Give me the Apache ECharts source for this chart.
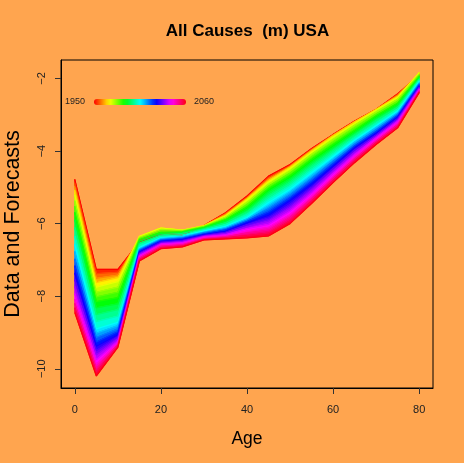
<!DOCTYPE html>
<html>
<head>
<meta charset="utf-8">
<script src="https://cdn.jsdelivr.net/npm/echarts@6/dist/echarts.min.js"></script>
<style>
  html, body { margin: 0; padding: 0; background: #FFA54F; }
  #chart { width: 464px; height: 463px; }
</style>
</head>
<body>
<div id="chart"></div>
<script>
// log death rates by age, one row per year (every 5 years, 1950-2060)
var ages = [0, 5, 10, 15, 20, 25, 30, 35, 40, 45, 50, 55, 60, 65, 70, 75, 80];
var years = [1950, 1955, 1960, 1965, 1970, 1975, 1980, 1985, 1990, 1995, 2000, 2005,
             2010, 2015, 2020, 2025, 2030, 2035, 2040, 2045, 2050, 2055, 2060];

var y1950 = [-4.78, -7.26, -7.26, -6.50, -6.30, -6.32, -6.05, -5.70, -5.24, -4.69, -4.37, -3.93, -3.54, -3.17, -2.85, -2.42, -1.90];
var y1955 = [-4.88, -7.38, -7.34, -6.46, -6.25, -6.28, -6.05, -5.72, -5.27, -4.73, -4.40, -3.95, -3.55, -3.18, -2.85, -2.44, -1.88];
var y1960 = [-4.98, -7.51, -7.42, -6.41, -6.19, -6.24, -6.05, -5.74, -5.29, -4.77, -4.42, -3.97, -3.56, -3.19, -2.85, -2.46, -1.86];
var y1965 = [-5.08, -7.63, -7.49, -6.37, -6.14, -6.20, -6.05, -5.77, -5.31, -4.81, -4.44, -3.99, -3.57, -3.19, -2.85, -2.49, -1.84];
var y1970 = [-5.20, -7.75, -7.60, -6.35, -6.12, -6.18, -6.06, -5.79, -5.35, -4.85, -4.48, -4.03, -3.61, -3.23, -2.87, -2.52, -1.84];
var y1975 = [-5.37, -7.89, -7.75, -6.38, -6.16, -6.19, -6.07, -5.82, -5.42, -4.92, -4.55, -4.09, -3.68, -3.29, -2.92, -2.57, -1.87];
var y1980 = [-5.52, -8.02, -7.89, -6.41, -6.20, -6.21, -6.08, -5.86, -5.48, -4.97, -4.61, -4.16, -3.75, -3.36, -2.98, -2.63, -1.91];
var y1985 = [-5.69, -8.15, -8.04, -6.44, -6.24, -6.22, -6.10, -5.89, -5.54, -5.04, -4.68, -4.23, -3.82, -3.43, -3.03, -2.68, -1.94];
var y1990 = [-5.89, -8.32, -8.21, -6.49, -6.27, -6.24, -6.12, -5.93, -5.61, -5.12, -4.76, -4.31, -3.90, -3.49, -3.09, -2.73, -1.97];
var y1995 = [-6.11, -8.51, -8.37, -6.54, -6.31, -6.27, -6.14, -5.98, -5.68, -5.22, -4.85, -4.40, -3.98, -3.56, -3.16, -2.79, -2.01];
var y2000 = [-6.34, -8.70, -8.55, -6.60, -6.35, -6.31, -6.17, -6.03, -5.75, -5.32, -4.95, -4.50, -4.07, -3.63, -3.23, -2.84, -2.04];
var y2005 = [-6.57, -8.90, -8.72, -6.66, -6.39, -6.34, -6.20, -6.08, -5.83, -5.42, -5.05, -4.60, -4.15, -3.70, -3.30, -2.90, -2.08];
var y2010 = [-6.77, -9.02, -8.81, -6.69, -6.41, -6.36, -6.23, -6.11, -5.87, -5.51, -5.13, -4.68, -4.22, -3.75, -3.35, -2.94, -2.11];
var y2015 = [-6.97, -9.14, -8.90, -6.72, -6.44, -6.39, -6.25, -6.14, -5.90, -5.59, -5.21, -4.76, -4.28, -3.81, -3.41, -2.98, -2.14];
var y2020 = [-7.16, -9.26, -8.98, -6.75, -6.46, -6.41, -6.28, -6.17, -5.94, -5.68, -5.29, -4.84, -4.35, -3.86, -3.46, -3.02, -2.17];
var y2025 = [-7.36, -9.38, -9.06, -6.78, -6.49, -6.44, -6.30, -6.21, -5.98, -5.77, -5.37, -4.92, -4.42, -3.91, -3.51, -3.06, -2.21];
var y2030 = [-7.54, -9.50, -9.12, -6.81, -6.51, -6.46, -6.32, -6.24, -6.03, -5.85, -5.47, -5.00, -4.48, -3.97, -3.55, -3.10, -2.23];
var y2035 = [-7.73, -9.62, -9.18, -6.84, -6.54, -6.49, -6.34, -6.27, -6.09, -5.93, -5.56, -5.08, -4.55, -4.03, -3.59, -3.14, -2.26];
var y2040 = [-7.93, -9.75, -9.25, -6.88, -6.56, -6.52, -6.36, -6.31, -6.14, -6.02, -5.66, -5.17, -4.62, -4.10, -3.63, -3.18, -2.29];
var y2045 = [-8.08, -9.87, -9.29, -6.91, -6.59, -6.55, -6.38, -6.34, -6.20, -6.10, -5.75, -5.24, -4.69, -4.15, -3.68, -3.23, -2.32];
var y2050 = [-8.20, -9.98, -9.33, -6.95, -6.62, -6.58, -6.41, -6.36, -6.26, -6.18, -5.83, -5.31, -4.75, -4.21, -3.72, -3.27, -2.34];
var y2055 = [-8.32, -10.09, -9.37, -6.99, -6.66, -6.61, -6.43, -6.39, -6.33, -6.26, -5.92, -5.38, -4.81, -4.26, -3.77, -3.32, -2.37];
var y2060 = [-8.45, -10.20, -9.41, -7.03, -6.69, -6.64, -6.45, -6.42, -6.39, -6.34, -6.00, -5.45, -4.87, -4.32, -3.82, -3.36, -2.39];

var curves = [y1950, y1955, y1960, y1965, y1970, y1975, y1980, y1985, y1990, y1995, y2000, y2005,
              y2010, y2015, y2020, y2025, y2030, y2035, y2040, y2045, y2050, y2055, y2060];

var xTicks = [0, 20, 40, 60, 80];
var yTicks = [-10, -8, -6, -4, -2];

var FONT = "'Liberation Sans', Arial, Helvetica, sans-serif";

// R rainbow(): hue runs 0 .. 110/111 over the years
function rainbow(year) {
  var h = (year - 1950) / 111 * 6;
  var i = Math.floor(h) % 6, f = h - Math.floor(h);
  var rgb = [[1, f, 0], [1 - f, 1, 0], [0, 1, f], [0, 1 - f, 1], [f, 0, 1], [1, 0, 1 - f]][i];
  return "rgb(" + rgb.map(function (v) { return Math.round(v * 255); }).join(",") + ")";
}

var chart = echarts.init(document.getElementById("chart"));

var series = [];

// filled bands between neighbouring curves, so the rainbow has no gaps
series.push({
  type: "custom",
  silent: true,
  z: 2,
  clip: true,
  data: curves.slice(1).map(function (d, k) { return [k]; }),
  renderItem: function (params, api) {
    var k = params.dataIndex;
    var a = curves[k], b = curves[k + 1];
    var pts = [];
    for (var i = 0; i < ages.length; i++) pts.push(api.coord([ages[i], a[i]]));
    for (var j = ages.length - 1; j >= 0; j--) pts.push(api.coord([ages[j], b[j]]));
    var col = rainbow((years[k] + years[k + 1]) / 2);
    return {
      type: "polygon",
      shape: { points: pts },
      style: { fill: col, stroke: col, lineWidth: 1 }
    };
  }
});

curves.forEach(function (row, k) {
  series.push({
    type: "line",
    silent: true,
    z: 3,
    symbol: "none",
    data: ages.map(function (a, i) { return [a, row[i]]; }),
    lineStyle: { color: rainbow(years[k]), width: 1.2 }
  });
});

// legend bar colours
var stops = [];
for (var s = 0; s <= 22; s++) {
  stops.push({ offset: s / 22, color: rainbow(years[s]) });
}

chart.setOption({
  backgroundColor: "#FFA54F",
  animation: false,
  textStyle: { fontFamily: FONT },
  grid: {
    left: 61, right: 31, top: 60, bottom: 75,
    containLabel: false, outerBoundsMode: "none",
    show: true, borderColor: "#000", borderWidth: 1, backgroundColor: "transparent"
  },
  xAxis: {
    type: "value",
    min: -3.2, max: 83.2,
    name: "Age",
    nameLocation: "middle",
    nameGap: 42,
    nameTextStyle: { fontSize: 17.5, color: "#000", fontFamily: FONT },
    axisLine: { show: true, onZero: false, lineStyle: { color: "#000", width: 1 } },
    axisTick: { show: true, customValues: xTicks, length: 6, lineStyle: { color: "#333" } },
    axisLabel: { customValues: xTicks, fontSize: 11, color: "#222", margin: 16, fontFamily: FONT },
    splitLine: { show: false }
  },
  yAxis: {
    type: "value",
    min: -10.53, max: -1.49,
    name: "Data and Forecasts",
    nameLocation: "middle",
    nameGap: 37,
    nameRotate: 90,
    nameTextStyle: { fontSize: 21.5, color: "#000", fontFamily: FONT },
    axisLine: { show: true, onZero: false, lineStyle: { color: "#000", width: 1 } },
    axisTick: { show: true, customValues: yTicks, length: 6, lineStyle: { color: "#333" } },
    axisLabel: {
      customValues: yTicks, rotate: 90, fontSize: 11, color: "#222", margin: 14, fontFamily: FONT,
      formatter: function (v) { return String(v).replace("-", "\u2212"); }
    },
    splitLine: { show: false }
  },
  graphic: [
    {
      type: "text", x: 247.5, y: 31, z: 10,
      style: {
        text: "All Causes  (m) USA", font: "bold 17px " + FONT, fill: "#000",
        align: "center", verticalAlign: "middle", textAlign: "center", textVerticalAlign: "middle"
      }
    },
    {
      type: "rect", z: 10,
      shape: { x: 94, y: 99, width: 92, height: 6, r: 3 },
      style: { fill: new echarts.graphic.LinearGradient(0, 0, 1, 0, stops) }
    },
    {
      type: "text", x: 85, y: 102, z: 10,
      style: {
        text: String(years[0]), font: "9px " + FONT, fill: "#222",
        align: "right", verticalAlign: "middle", textAlign: "right", textVerticalAlign: "middle"
      }
    },
    {
      type: "text", x: 194, y: 102, z: 10,
      style: {
        text: String(years[years.length - 1]), font: "9px " + FONT, fill: "#222",
        align: "left", verticalAlign: "middle", textAlign: "left", textVerticalAlign: "middle"
      }
    }
  ],
  series: series
});
</script>
</body>
</html>
